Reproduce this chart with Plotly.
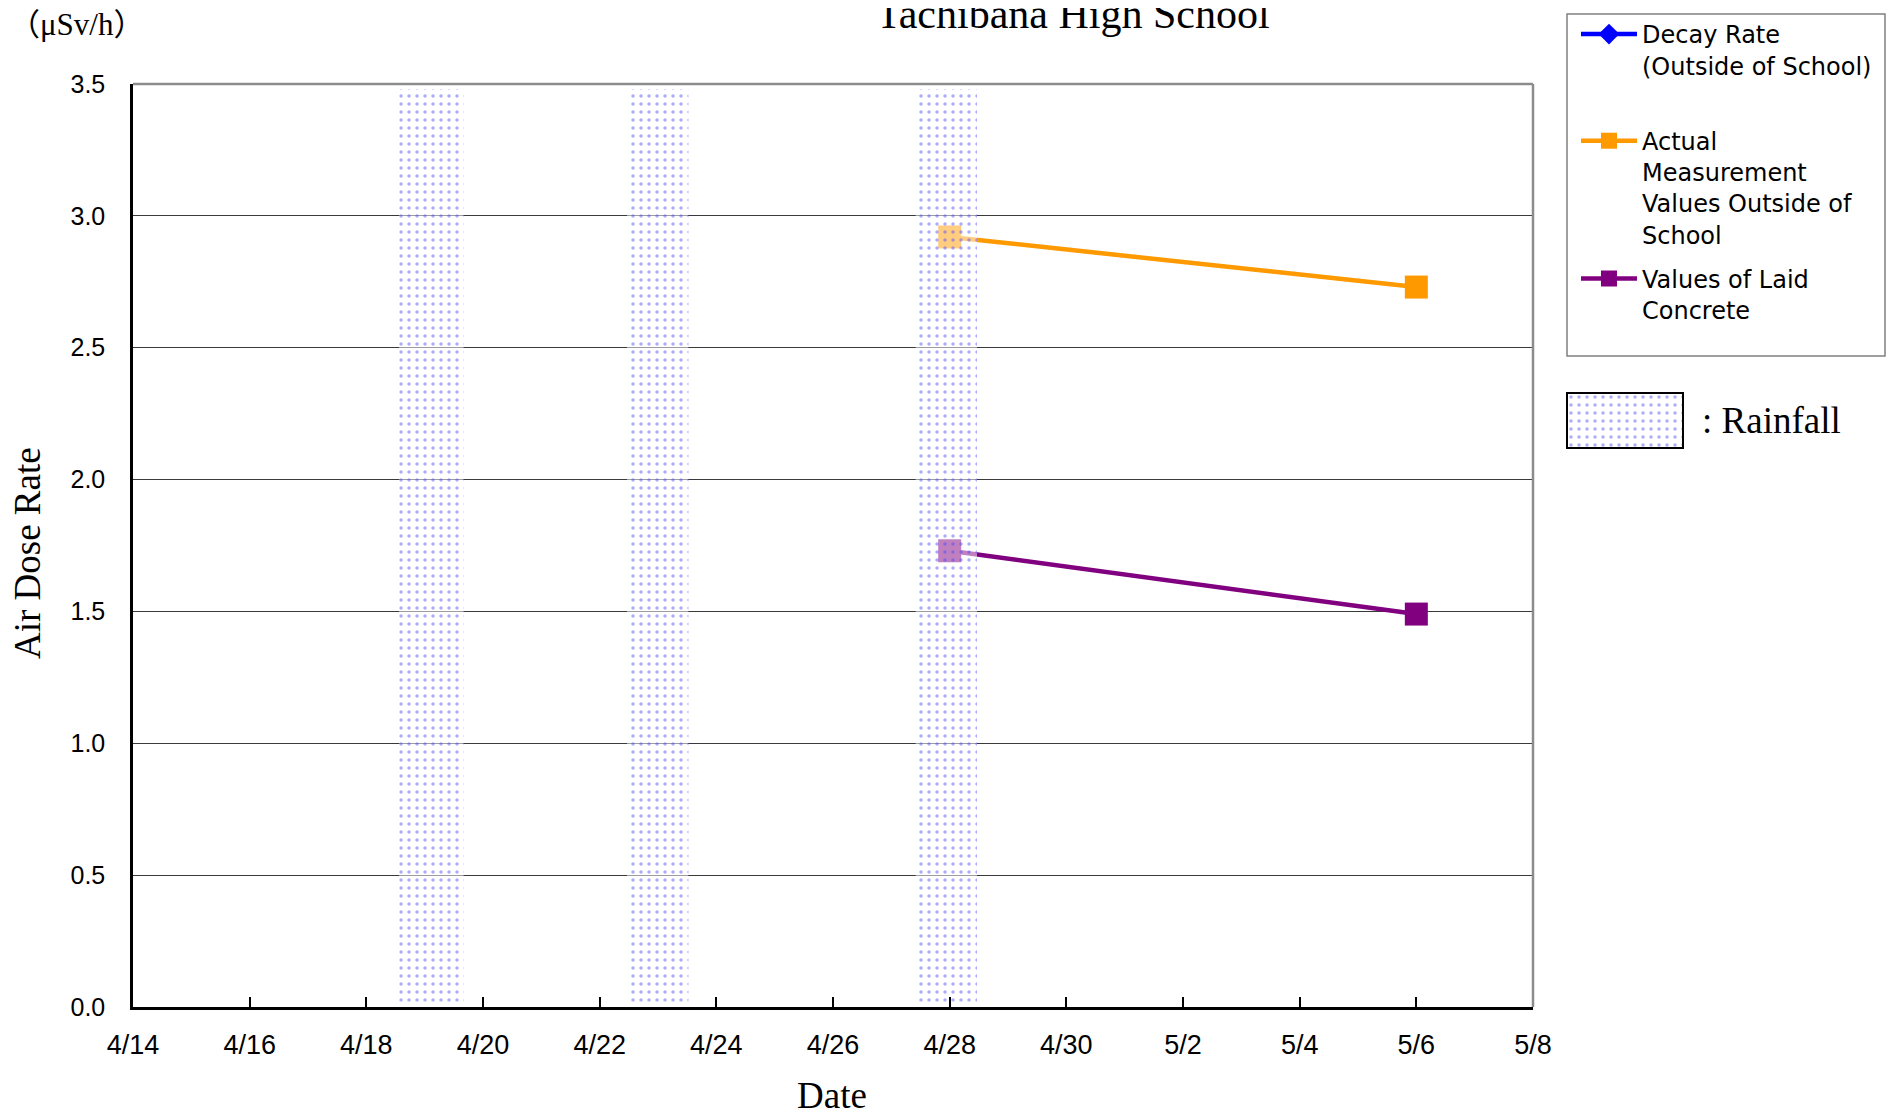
import pandas as pd
import plotly.graph_objects as go

# ---------------- data ----------------
meas_dates = ["2011-04-28", "2011-05-06"]
actual_outside = [2.92, 2.73]
laid_concrete = [1.73, 1.49]
decay_dates = []      # no points plotted for this series in the chart
decay_rate = []

rain_start = ["2011-04-18 13:30", "2011-04-22 11:15", "2011-04-27 10:00"]
rain_end = ["2011-04-19 16:00", "2011-04-23 12:30", "2011-04-28 11:15"]

x_range = ["2011-04-14", "2011-05-08"]
y_ticks = [0.0, 0.5, 1.0, 1.5, 2.0, 2.5, 3.0, 3.5]

# ---------------- layout helpers ----------------
OFF = 8                      # page body margin
W, H = 1897 - 2 * OFF, 1118 - 2 * OFF
ML, MT = 133 - OFF, 84 - OFF
PLOT_BOTTOM = 1007 - OFF
MB = H - PLOT_BOTTOM
MR = 4
PW = W - ML - MR
PH = H - MT - MB


def px_x(px):
    """reference-screenshot x pixel -> paper coordinate"""
    return (px - OFF - ML) / PW


def px_y(py):
    """reference-screenshot y pixel -> paper coordinate"""
    return (PLOT_BOTTOM - (py - OFF)) / PH


SERIF = "Liberation Serif, Times New Roman, serif"
SANS = "Liberation Sans, Arial, sans-serif"

rs = pd.to_datetime(pd.Series(rain_start))
re_ = pd.to_datetime(pd.Series(rain_end))
rain_center = rs + (re_ - rs) / 2
rain_width = ((re_ - rs).dt.total_seconds() * 1000).tolist()
band_base = 0.02
band_top = 3.48

pattern = dict(shape=".", fgcolor="rgba(70,70,255,0.9)",
               bgcolor="rgba(255,255,255,0.5)", size=8, solidity=0.15)

fig = go.Figure()

fig.add_trace(go.Scatter(
    x=decay_dates or [None], y=decay_rate or [None], mode="lines+markers",
    name="Decay Rate<br>(Outside of School)<br> ",
    line=dict(color="#0000FF", width=4.5),
    marker=dict(symbol="diamond", size=18, color="#0000FF"),
    legendgroup="a"))

fig.add_trace(go.Scatter(
    x=meas_dates, y=actual_outside, mode="lines+markers",
    name="Actual<br>Measurement<br>Values Outside of<br>School",
    line=dict(color="#FF9900", width=4.5),
    marker=dict(symbol="square", size=23, color="#FF9900"),
    legendgroup="b"))

fig.add_trace(go.Scatter(
    x=meas_dates, y=laid_concrete, mode="lines+markers",
    name="Values of Laid<br>Concrete",
    line=dict(color="#800080", width=4.5),
    marker=dict(symbol="square", size=23, color="#800080"),
    legendgroup="c"))

# rainfall bands on overlaying axes so they sit above the lines
fig.add_trace(go.Bar(
    x=rain_center, y=[band_top - band_base] * len(rain_center),
    base=[band_base] * len(rain_center), width=rain_width,
    xaxis="x2", yaxis="y2", showlegend=False,
    marker=dict(color="rgba(255,255,255,0)", line=dict(width=0), pattern=pattern),
    hoverinfo="skip"))

# rainfall swatch
fig.add_trace(go.Bar(
    x=[0], y=[1], width=[1], xaxis="x3", yaxis="y3", showlegend=False,
    marker=dict(color="white", line=dict(width=0), pattern=pattern),
    hoverinfo="skip"))

main_dom_x = [0, px_x(1533)]

fig.update_layout(
    width=W, height=H,
    margin=dict(l=ML, r=MR, t=MT, b=MB, autoexpand=False),
    paper_bgcolor="white", plot_bgcolor="white",
    showlegend=True,
    barmode="overlay",
    xaxis=dict(
        domain=main_dom_x, type="date", range=x_range,
        tick0="2011-04-14", dtick=2 * 86400000, tickformat="%-m/%-d",
        ticks="inside", ticklen=10, tickwidth=1.5, tickcolor="black",
        ticklabelstandoff=12,
        showgrid=False, zeroline=False,
        showline=True, linecolor="black", linewidth=2.5,
        tickfont=dict(family=SANS, size=27, color="black")),
    yaxis=dict(
        range=[0, 3.5], tickvals=y_ticks, tickformat=".1f",
        ticks="", ticklabelstandoff=20,
        showgrid=True, gridcolor="#3a3a3a", gridwidth=1.2,
        zeroline=False, showline=True, linecolor="black", linewidth=2.5,
        tickfont=dict(family=SANS, size=25, color="black")),
    xaxis2=dict(overlaying="x", matches="x", visible=False, type="date"),
    yaxis2=dict(overlaying="y", range=[0, 3.5], visible=False),
    xaxis3=dict(domain=[px_x(1567), px_x(1683)], range=[-0.5, 0.5], visible=False,
                anchor="y3"),
    yaxis3=dict(domain=[px_y(448), px_y(393)], range=[0, 1], visible=False,
                anchor="x3"),
    legend=dict(
        x=px_x(1576), y=px_y(12), xanchor="left", yanchor="top",
        bgcolor="rgba(0,0,0,0)", borderwidth=0, itemwidth=56,
        font=dict(family="DejaVu Sans, Liberation Sans, sans-serif", size=24, color="black"),
        valign="top", tracegroupgap=10, traceorder="grouped"),
)

shapes = [
    # top and right frame in gray
    dict(type="line", xref="paper", yref="paper", x0=0, x1=main_dom_x[1], y0=1, y1=1,
         line=dict(color="#8c8c8c", width=2.5)),
    dict(type="line", xref="paper", yref="paper", x0=main_dom_x[1], x1=main_dom_x[1], y0=0, y1=1,
         line=dict(color="#8c8c8c", width=2.5)),
    # legend box
    dict(type="rect", xref="paper", yref="paper", x0=px_x(1567), x1=px_x(1885),
         y0=px_y(356), y1=px_y(14), line=dict(color="#808080", width=1.5)),
    # rainfall swatch border
    dict(type="rect", xref="x3 domain", yref="y3 domain", x0=0, x1=1, y0=0, y1=1,
         line=dict(color="black", width=2)),
]
fig.update_layout(shapes=shapes)

annotations = [
    dict(text="Tachibana High School", x=px_x(1073), y=px_y(14), xref="paper", yref="paper",
         showarrow=False, xanchor="center", yanchor="middle",
         font=dict(family=SERIF, size=42, color="black")),
    dict(text="（μSv/h）", x=px_x(76), y=px_y(25), xref="paper", yref="paper",
         showarrow=False, xanchor="center", yanchor="middle",
         font=dict(family="Liberation Serif, Noto Sans CJK JP", size=31, color="black")),
    dict(text="Air Dose Rate", x=px_x(27), y=px_y(553), xref="paper", yref="paper",
         showarrow=False, xanchor="center", yanchor="middle", textangle=-90,
         font=dict(family=SERIF, size=37, color="black")),
    dict(text="Date", x=px_x(832), y=px_y(1095), xref="paper", yref="paper",
         showarrow=False, xanchor="center", yanchor="middle",
         font=dict(family=SERIF, size=37, color="black")),
    dict(text=": Rainfall", x=px_x(1700), y=px_y(421), xref="paper", yref="paper",
         showarrow=False, xanchor="left", yanchor="middle",
         font=dict(family=SERIF, size=37, color="black")),
]
fig.update_layout(annotations=annotations)

fig.write_html("out.html")
